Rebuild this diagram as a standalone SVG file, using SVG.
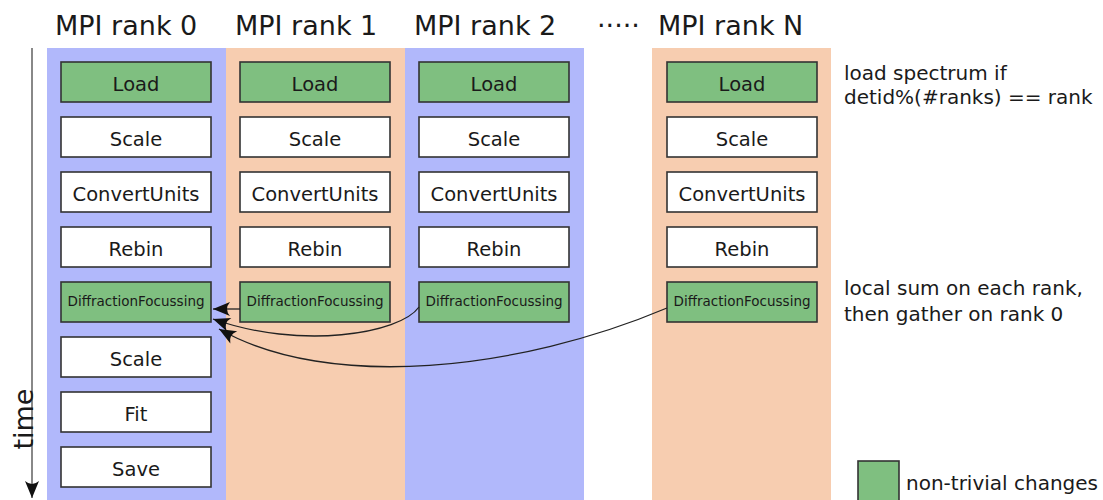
<svg xmlns="http://www.w3.org/2000/svg" width="1103" height="500" viewBox="0 0 1103 500">
  <style>
    text { font-family: "DejaVu Sans", sans-serif; fill: #1a1a1a; }
    .head { font-size: 27px; }
    .lbl { font-size: 19.5px; text-anchor: middle; }
    .small { font-size: 13.5px; text-anchor: middle; }
    .note { font-size: 20px; }
    .box { stroke: #333; stroke-width: 1.6; }
    .plain { fill: #ffffff; }
    .green { fill: #7fbf80; }
    .conn { fill: none; stroke: #222; stroke-width: 1.3; }
  </style>
  <defs>
    <marker id="head" viewBox="-19 -8 20 16" markerWidth="20" markerHeight="16" refX="0" refY="0" orient="auto" markerUnits="userSpaceOnUse">
      <path d="M0,0 L-17,-7 Q-11,0 -17,7 Z" fill="#111"/>
    </marker>
  </defs>

  <rect width="1103" height="500" fill="#ffffff"/>

  <!-- rank lanes -->
  <rect x="47" y="48" width="179" height="452" fill="#b1b8fb"/>
  <rect x="226" y="48" width="179" height="452" fill="#f7cdb0"/>
  <rect x="405" y="48" width="179" height="452" fill="#b1b8fb"/>
  <rect x="652" y="48" width="179" height="452" fill="#f7cdb0"/>

  <!-- lane headers -->
  <text class="head" x="55" y="35">MPI rank 0</text>
  <text class="head" x="235" y="35">MPI rank 1</text>
  <text class="head" x="414" y="35">MPI rank 2</text>
  <text class="head" x="597" y="35">·····</text>
  <text class="head" x="658" y="35">MPI rank N</text>

  <!-- time axis -->
  <line x1="32" y1="48" x2="32" y2="498" stroke="#888" stroke-width="2" marker-end="url(#head)"/>
  <text x="33" y="419" font-size="27" text-anchor="middle" transform="rotate(-90 33 419)">time</text>

  <!-- rank 0 -->
  <g id="r0-load"><rect class="box green" x="61" y="62" width="150" height="40"/><text class="lbl" x="136" y="91">Load</text></g>
  <g id="r0-scale"><rect class="box plain" x="61" y="117" width="150" height="40"/><text class="lbl" x="136" y="146">Scale</text></g>
  <g id="r0-convert"><rect class="box plain" x="61" y="172" width="150" height="40"/><text class="lbl" x="136" y="201">ConvertUnits</text></g>
  <g id="r0-rebin"><rect class="box plain" x="61" y="227" width="150" height="40"/><text class="lbl" x="136" y="256">Rebin</text></g>
  <g id="r0-focus"><rect class="box green" x="61" y="282" width="150" height="40"/><text class="small" x="136" y="306">DiffractionFocussing</text></g>
  <g id="r0-scale2"><rect class="box plain" x="61" y="337" width="150" height="40"/><text class="lbl" x="136" y="366">Scale</text></g>
  <g id="r0-fit"><rect class="box plain" x="61" y="392" width="150" height="40"/><text class="lbl" x="136" y="421">Fit</text></g>
  <g id="r0-save"><rect class="box plain" x="61" y="447" width="150" height="40"/><text class="lbl" x="136" y="476">Save</text></g>

  <!-- rank 1 -->
  <g id="r1-load"><rect class="box green" x="240" y="62" width="150" height="40"/><text class="lbl" x="315" y="91">Load</text></g>
  <g id="r1-scale"><rect class="box plain" x="240" y="117" width="150" height="40"/><text class="lbl" x="315" y="146">Scale</text></g>
  <g id="r1-convert"><rect class="box plain" x="240" y="172" width="150" height="40"/><text class="lbl" x="315" y="201">ConvertUnits</text></g>
  <g id="r1-rebin"><rect class="box plain" x="240" y="227" width="150" height="40"/><text class="lbl" x="315" y="256">Rebin</text></g>
  <g id="r1-focus"><rect class="box green" x="240" y="282" width="150" height="40"/><text class="small" x="315" y="306">DiffractionFocussing</text></g>

  <!-- rank 2 -->
  <g id="r2-load"><rect class="box green" x="419" y="62" width="150" height="40"/><text class="lbl" x="494" y="91">Load</text></g>
  <g id="r2-scale"><rect class="box plain" x="419" y="117" width="150" height="40"/><text class="lbl" x="494" y="146">Scale</text></g>
  <g id="r2-convert"><rect class="box plain" x="419" y="172" width="150" height="40"/><text class="lbl" x="494" y="201">ConvertUnits</text></g>
  <g id="r2-rebin"><rect class="box plain" x="419" y="227" width="150" height="40"/><text class="lbl" x="494" y="256">Rebin</text></g>
  <g id="r2-focus"><rect class="box green" x="419" y="282" width="150" height="40"/><text class="small" x="494" y="306">DiffractionFocussing</text></g>

  <!-- rank N -->
  <g id="rN-load"><rect class="box green" x="667" y="62" width="150" height="40"/><text class="lbl" x="742" y="91">Load</text></g>
  <g id="rN-scale"><rect class="box plain" x="667" y="117" width="150" height="40"/><text class="lbl" x="742" y="146">Scale</text></g>
  <g id="rN-convert"><rect class="box plain" x="667" y="172" width="150" height="40"/><text class="lbl" x="742" y="201">ConvertUnits</text></g>
  <g id="rN-rebin"><rect class="box plain" x="667" y="227" width="150" height="40"/><text class="lbl" x="742" y="256">Rebin</text></g>
  <g id="rN-focus"><rect class="box green" x="667" y="282" width="150" height="40"/><text class="small" x="742" y="306">DiffractionFocussing</text></g>

  <!-- gather connectors -->
  <g id="connectors">
    <path class="conn" d="M240,309 L213,309" marker-end="url(#head)"/>
    <path class="conn" d="M419,307 C400,334 300,350 213,319" marker-end="url(#head)"/>
    <path class="conn" d="M667,308 C520,370 330,392 219,329" marker-end="url(#head)"/>
  </g>

  <!-- notes -->
  <text class="note" x="844" y="80">load spectrum if</text>
  <text class="note" x="844" y="104">detid%(#ranks) == rank</text>
  <text class="note" x="844" y="295">local sum on each rank,</text>
  <text class="note" x="844" y="321">then gather on rank 0</text>

  <!-- legend -->
  <g id="legend">
    <rect class="box green" x="858" y="461" width="41" height="44"/>
    <text class="note" x="906" y="490">non-trivial changes</text>
  </g>
</svg>
